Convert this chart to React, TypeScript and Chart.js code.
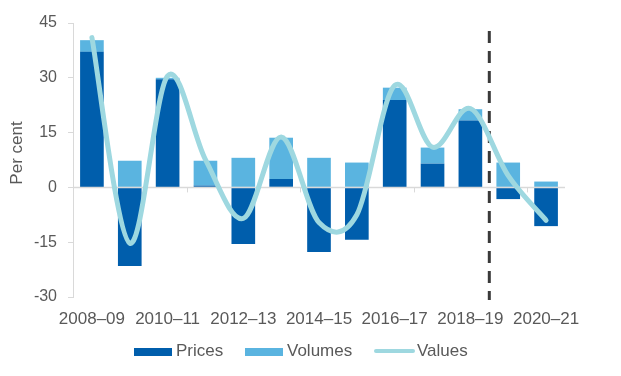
import React, { useEffect, useRef } from "react";
import { Chart, registerables } from "chart.js";

Chart.register(...registerables);

const categories = [
  "2008–09", "2009–10", "2010–11", "2011–12", "2012–13", "2013–14", "2014–15",
  "2015–16", "2016–17", "2017–18", "2018–19", "2019–20", "2020–21",
];
const prices = [37.1, -21.5, 29.6, 0.5, -15.5, 2.3, -17.7, -14.3, 23.9, 6.5, 18.3, -3.2, -10.6];
const volumes = [3.2, 7.3, 0.4, 6.8, 8.1, 11.3, 8.1, 6.8, 3.4, 4.4, 3.1, 6.8, 1.6];
const values = [41.0, -15.3, 30.5, 7.6, -8.5, 13.8, -9.6, -7.5, 27.9, 11.0, 21.6, 3.2, -9.0];
const yTicks = [-30, -15, 0, 15, 30, 45];
const forecastAfter = "2018–19";
const yTitle = "Per cent";
const legendNames = ["Prices", "Volumes", "Values"];

const FONT = "'Liberation Sans', Arial, sans-serif";
const TEXT = "#595959";
const AXIS = "#D9D9D9";
const C_PRICES = "#005EAC";
const C_VOLUMES = "#5AB4E0";
const C_VALUES = "#9ED8E0";

const overlayPlugin = {
  id: "overlay",
  beforeDatasetDraw(chart: any, args: any) {
    const meta = args.meta;
    if (meta.type !== "line") return;
    const ctx = chart.ctx;
    const x = chart.scales.x;
    const y = chart.scales.y;
    const area = chart.chartArea;
    // zero line
    const y0 = y.getPixelForValue(0);
    ctx.save();
    ctx.strokeStyle = AXIS;
    ctx.lineWidth = 1.5;
    ctx.beginPath();
    ctx.moveTo(area.left, y0);
    ctx.lineTo(area.right, y0);
    ctx.stroke();
    // small tick marks every third category
    ctx.lineWidth = 1;
    for (let k = 3; k < categories.length; k += 3) {
      const bx = Math.round((x.getPixelForValue(k - 1) + x.getPixelForValue(k)) / 2) + 0.5;
      ctx.beginPath();
      ctx.moveTo(bx, y0);
      ctx.lineTo(bx, y0 + 5);
      ctx.stroke();
    }
    // dashed forecast divider
    const fi = categories.indexOf(forecastAfter);
    const dx = (x.getPixelForValue(fi) + x.getPixelForValue(fi + 1)) / 2;
    ctx.strokeStyle = "#3A3A3A";
    ctx.lineWidth = 3;
    ctx.setLineDash([12, 8]);
    ctx.beginPath();
    ctx.moveTo(dx, area.top + 8);
    ctx.lineTo(dx, area.bottom + 3);
    ctx.stroke();
    ctx.restore();

    // Catmull-Rom style control points (Excel smoothing)
    const pts = meta.data;
    for (let i = 0; i < pts.length; i++) {
      const p = pts[i];
      const prev = pts[i - 1] || p;
      const next = pts[i + 1] || p;
      const tx = (next.x - prev.x) / 6;
      const ty = (next.y - prev.y) / 6;
      p.cp1x = p.x - tx;
      p.cp1y = p.y - ty;
      p.cp2x = p.x + tx;
      p.cp2y = p.y + ty;
    }
    meta.dataset._pointsUpdated = true;
    meta.dataset._path = undefined;
  },
  afterDraw(chart: any) {
    const ctx = chart.ctx;
    ctx.save();
    ctx.translate(9, 145);
    ctx.rotate(-Math.PI / 2);
    ctx.fillStyle = TEXT;
    ctx.font = `17px ${FONT}`;
    ctx.textAlign = "center";
    ctx.textBaseline = "middle";
    ctx.fillText(yTitle, 0, 0);
    ctx.restore();
  },
};

export default function App() {
  const ref = useRef<HTMLCanvasElement>(null);
  useEffect(() => {
    const chart = new Chart(ref.current!, {
      type: "bar",
      data: {
        labels: categories,
        datasets: [
          {
            type: "bar",
            label: legendNames[0],
            data: prices,
            backgroundColor: C_PRICES,
            stack: "bars",
            order: 1,
            categoryPercentage: 1,
            barPercentage: 0.625,
          },
          {
            type: "bar",
            label: legendNames[1],
            data: volumes,
            backgroundColor: C_VOLUMES,
            stack: "bars",
            order: 1,
            categoryPercentage: 1,
            barPercentage: 0.625,
          },
          {
            type: "line",
            label: legendNames[2],
            data: values,
            borderColor: C_VALUES,
            borderWidth: 5,
            borderCapStyle: "round",
            borderJoinStyle: "round",
            pointRadius: 0,
            tension: 0.4,
            fill: false,
            stack: "values",
            order: 0,
          },
        ],
      } as any,
      options: {
        animation: false,
        responsive: false,
        layout: { padding: { top: 15, right: 48, bottom: 39, left: 0 } },
        plugins: { legend: { display: false }, tooltip: { enabled: false } },
        scales: {
          x: {
            stacked: true,
            grid: { display: false, drawTicks: false },
            border: { display: false },
            ticks: {
              autoSkip: false,
              maxRotation: 0,
              padding: 12,
              color: TEXT,
              font: { family: FONT, size: 17 },
              callback: (_v: any, i: number) => (i % 2 === 0 ? categories[i] : ""),
            },
            afterFit: (s: any) => {
              s.height = 32;
            },
          },
          y: {
            stacked: true,
            min: yTicks[0],
            max: yTicks[yTicks.length - 1],
            afterBuildTicks: (s: any) => {
              s.ticks = yTicks.map((v) => ({ value: v }));
            },
            grid: {
              display: true,
              drawOnChartArea: false,
              drawTicks: true,
              tickLength: 5,
              color: AXIS,
            },
            border: { display: true, color: AXIS, width: 1 },
            ticks: {
              padding: 11,
              color: TEXT,
              font: { family: FONT, size: 16 },
            },
            afterFit: (s: any) => {
              s.width = 65;
              s.paddingTop = 5;
              s.paddingBottom = 5;
            },
          },
        },
      } as any,
      plugins: [overlayPlugin],
    });
    return () => chart.destroy();
  }, []);

  const txt: React.CSSProperties = {
    position: "absolute",
    top: 333,
    fontFamily: FONT,
    fontSize: 17,
    lineHeight: "20px",
    color: TEXT,
    whiteSpace: "nowrap",
  };
  return (
    <div style={{ position: "relative", width: 605, height: 360 }}>
      <canvas ref={ref} width={605} height={360} style={{ display: "block" }} />
      <div style={{ position: "absolute", left: 126, top: 339.5, width: 38, height: 8, background: C_PRICES }} />
      <div style={{ ...txt, left: 168 }}>{legendNames[0]}</div>
      <div style={{ position: "absolute", left: 237, top: 339.5, width: 38, height: 8, background: C_VOLUMES }} />
      <div style={{ ...txt, left: 279 }}>{legendNames[1]}</div>
      <div style={{ position: "absolute", left: 366, top: 341, width: 41, height: 4, borderRadius: 2, background: C_VALUES }} />
      <div style={{ ...txt, left: 409 }}>{legendNames[2]}</div>
    </div>
  );
}
